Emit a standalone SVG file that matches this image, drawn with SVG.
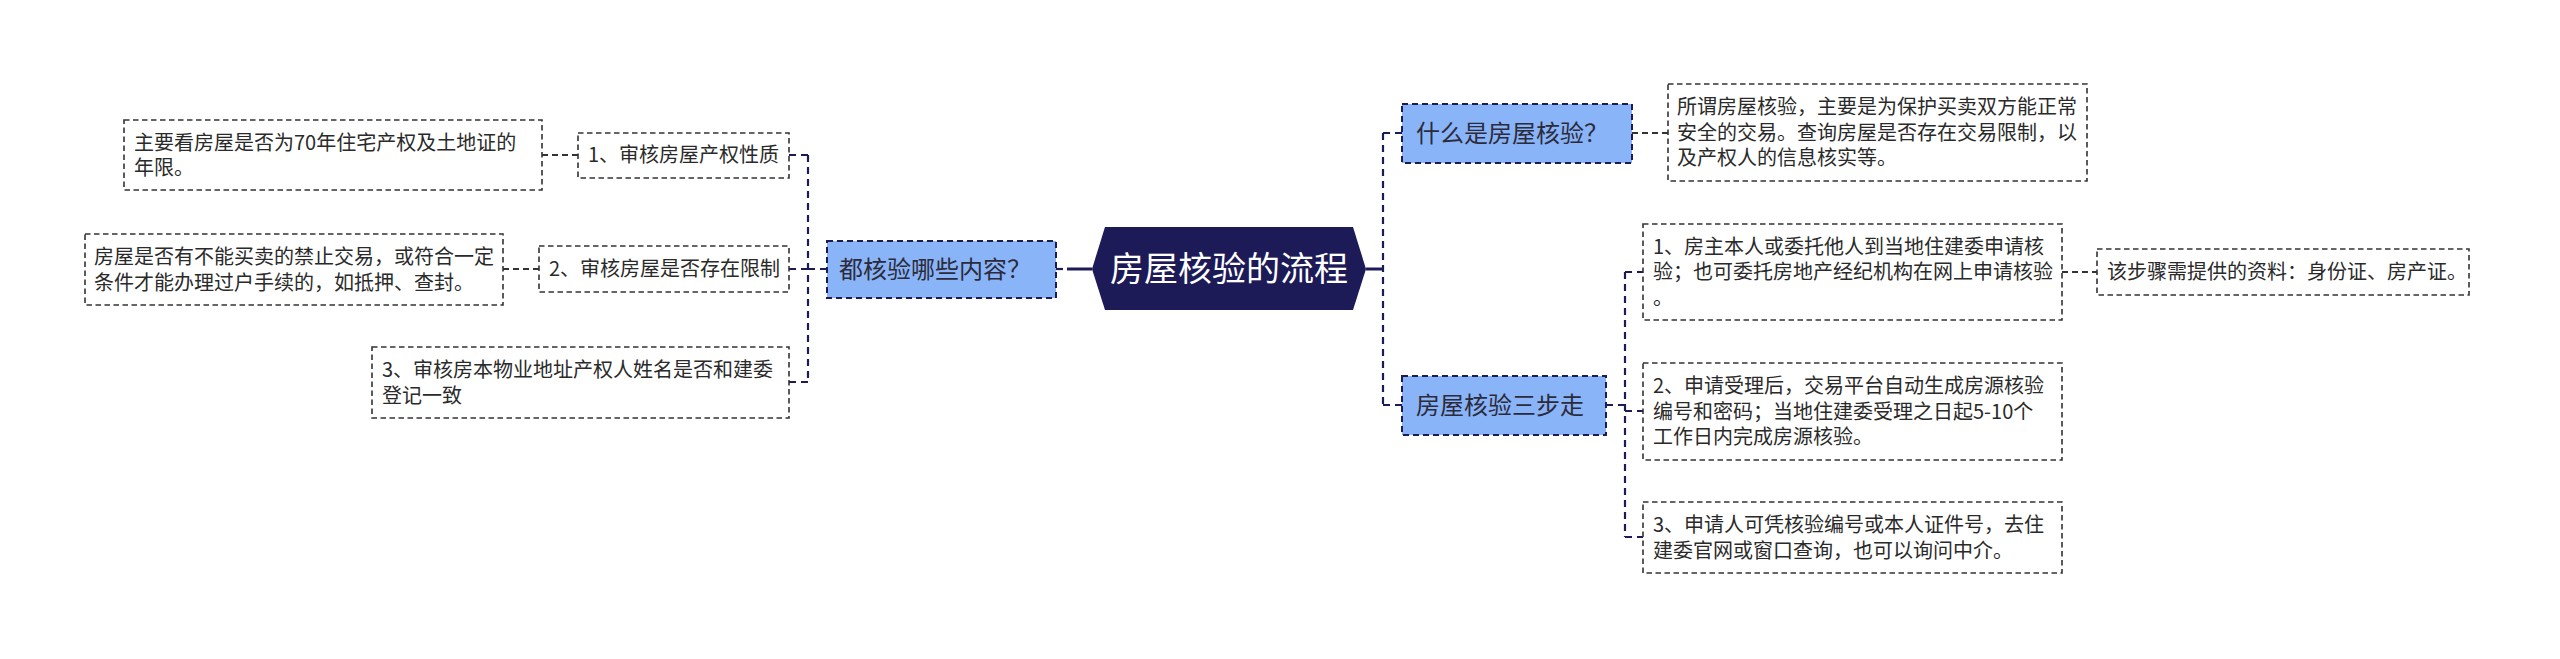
<svg xmlns="http://www.w3.org/2000/svg" width="2560" height="659" viewBox="0 0 2560 659">
<style>
  .leaf rect { fill: #ffffff; stroke: #333333; stroke-width: 1.6; stroke-dasharray: 5.5 3.5; }
  .main rect { fill: #8ab4f8; stroke: #1c1b56; stroke-width: 2; stroke-dasharray: 6 4; }
  .leaf text { font-family: "Noto Sans CJK SC", "Noto Sans", sans-serif; font-size: 20px; fill: #2a2a2a; }
  .main text { font-family: "Noto Sans CJK SC", "Noto Sans", sans-serif; font-size: 24px; fill: #2b2b3b; }
  .center text { font-family: "Noto Sans CJK SC", "Noto Sans", sans-serif; font-size: 34px; fill: #ffffff; }
  .dash { fill: none; stroke: #1c1b56; stroke-width: 2.2; stroke-dasharray: 7 5; }
  .dash2 { fill: none; stroke: #333333; stroke-width: 1.8; stroke-dasharray: 6 4; }
  .solid { fill: none; stroke: #1c1b56; stroke-width: 3; }
</style>
<rect x="0" y="0" width="2560" height="659" fill="#ffffff"/>
<g id="connectors">
  <line class="solid" x1="1067" y1="269" x2="1092" y2="269"/>
  <line class="dash" x1="1056" y1="269" x2="1063" y2="269"/>
  <line class="solid" x1="1366" y1="269" x2="1383" y2="269"/>
  <path class="dash" d="M827 269 H808"/>
  <path class="dash" d="M808 155 V382"/>
  <path class="dash" d="M808 155 H789"/>
  <path class="dash" d="M808 269 H789"/>
  <path class="dash" d="M808 382 H789"/>
  <path class="dash2" d="M578 155 H542"/>
  <path class="dash2" d="M539 269 H503"/>
  <path class="dash" d="M1383 133 V405"/>
  <path class="dash" d="M1383 133 H1402"/>
  <path class="dash" d="M1383 405 H1402"/>
  <path class="dash2" d="M1632 133 H1668"/>
  <path class="dash" d="M1606 405 H1625"/>
  <path class="dash" d="M1625 272 V537"/>
  <path class="dash" d="M1625 272 H1643"/>
  <path class="dash" d="M1625 411 H1643"/>
  <path class="dash" d="M1625 537 H1643"/>
  <path class="dash2" d="M2062 272 H2097"/>
</g>
<g id="center" class="center">
  <polygon points="1092,269 1105,227 1353,227 1366,269 1353,310 1105,310" fill="#1c1a57"/>
  <text x="1229" y="281" text-anchor="middle">房屋核验的流程</text>
</g>
<g id="n-content" class="main">
  <rect x="827" y="241" width="229" height="57"/>
  <text x="839" y="278">都核验哪些内容？</text>
</g>
<g id="n-c1" class="leaf">
  <rect x="578" y="133" width="211" height="45"/>
  <text x="588" y="162">1、审核房屋产权性质</text>
</g>
<g id="n-c1a" class="leaf">
  <rect x="124" y="120" width="418" height="70"/>
  <text x="134" y="149.5">主要看房屋是否为70年住宅产权及土地证的</text>
  <text x="134" y="175">年限。</text>
</g>
<g id="n-c2" class="leaf">
  <rect x="539" y="246" width="250" height="46"/>
  <text x="549" y="276">2、审核房屋是否存在限制</text>
</g>
<g id="n-c2a" class="leaf">
  <rect x="85" y="234" width="418" height="71"/>
  <text x="94" y="264">房屋是否有不能买卖的禁止交易，或符合一定</text>
  <text x="94" y="289.5">条件才能办理过户手续的，如抵押、查封。</text>
</g>
<g id="n-c3" class="leaf">
  <rect x="372" y="347" width="417" height="71"/>
  <text x="382" y="377">3、审核房本物业地址产权人姓名是否和建委</text>
  <text x="382" y="402.5">登记一致</text>
</g>
<g id="n-what" class="main">
  <rect x="1402" y="104" width="230" height="59"/>
  <text x="1416" y="142">什么是房屋核验？</text>
</g>
<g id="n-what-a" class="leaf">
  <rect x="1668" y="84" width="419" height="97"/>
  <text x="1677" y="114">所谓房屋核验，主要是为保护买卖双方能正常</text>
  <text x="1677" y="139.5">安全的交易。查询房屋是否存在交易限制，以</text>
  <text x="1677" y="165">及产权人的信息核实等。</text>
</g>
<g id="n-steps" class="main">
  <rect x="1402" y="376" width="204" height="59"/>
  <text x="1416" y="414">房屋核验三步走</text>
</g>
<g id="n-s1" class="leaf">
  <rect x="1643" y="224" width="419" height="96"/>
  <text x="1653" y="253.5">1、房主本人或委托他人到当地住建委申请核</text>
  <text x="1653" y="279">验；也可委托房地产经纪机构在网上申请核验</text>
  <text x="1653" y="304.5">。</text>
</g>
<g id="n-s1a" class="leaf">
  <rect x="2097" y="249" width="372" height="46"/>
  <text x="2107" y="279">该步骤需提供的资料：身份证、房产证。</text>
</g>
<g id="n-s2" class="leaf">
  <rect x="1643" y="363" width="419" height="97"/>
  <text x="1653" y="393">2、申请受理后，交易平台自动生成房源核验</text>
  <text x="1653" y="418.5">编号和密码；当地住建委受理之日起5-10个</text>
  <text x="1653" y="444">工作日内完成房源核验。</text>
</g>
<g id="n-s3" class="leaf">
  <rect x="1643" y="502" width="419" height="71"/>
  <text x="1653" y="532">3、申请人可凭核验编号或本人证件号，去住</text>
  <text x="1653" y="557.5">建委官网或窗口查询，也可以询问中介。</text>
</g>
</svg>
